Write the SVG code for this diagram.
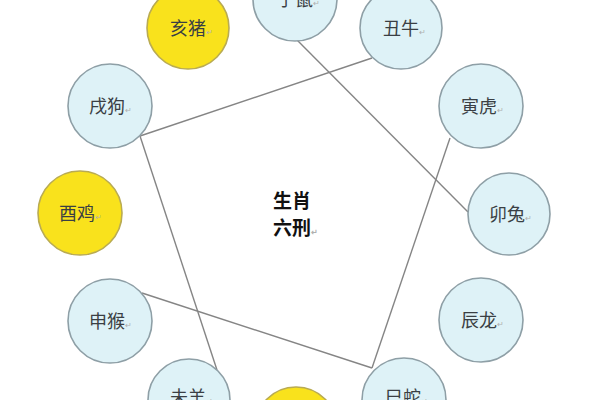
<svg xmlns="http://www.w3.org/2000/svg" width="600" height="400" viewBox="0 0 600 400">
<style>
.b{fill:#def2f7;stroke:#8e9fa6;stroke-width:1.6}
.y{fill:#f9e21c;stroke:#b9ab52;stroke-width:1.6}
.t{font-family:"Noto Sans CJK SC","Noto Sans CJK TC",sans-serif;font-size:18px;fill:#3a3f44}
.m{font-size:8px;fill:#b0b0b0}
.c{font-family:"Noto Sans CJK SC","Noto Sans CJK TC",sans-serif;font-size:19px;font-weight:bold;fill:#111}
.l{stroke:#858585;stroke-width:1.4;fill:none}
</style>
<rect width="600" height="400" fill="#fff"/>
<g id="connectors">
<line class="l" x1="297" y1="40" x2="468" y2="212"/>
<line class="l" x1="372" y1="58" x2="140" y2="136"/>
<line class="l" x1="140" y1="136" x2="217" y2="370"/>
<line class="l" x1="142" y1="293" x2="372" y2="368"/>
<line class="l" x1="450" y1="138" x2="372" y2="368"/>
</g>
<g id="hai"><circle class="y" cx="188" cy="28" r="41"/><text class="t" x="170" y="35">亥猪<tspan class="m">↵</tspan></text></g>
<g id="zi"><circle class="b" cx="295" cy="-1" r="42"/><text class="t" x="277" y="6">子鼠<tspan class="m">↵</tspan></text></g>
<g id="chou"><circle class="b" cx="401" cy="28" r="41"/><text class="t" x="383" y="35">丑牛<tspan class="m">↵</tspan></text></g>
<g id="yin"><circle class="b" cx="481" cy="106" r="42"/><text class="t" x="461" y="113">寅虎<tspan class="m">↵</tspan></text></g>
<g id="mao"><circle class="b" cx="509" cy="214" r="41"/><text class="t" x="489" y="221">卯兔<tspan class="m">↵</tspan></text></g>
<g id="chen"><circle class="b" cx="481" cy="320" r="42"/><text class="t" x="461" y="327">辰龙<tspan class="m">↵</tspan></text></g>
<g id="si"><circle class="b" cx="404" cy="400" r="42"/><text class="t" x="385" y="404">巳蛇<tspan class="m">↵</tspan></text></g>
<g id="wu"><circle class="y" cx="296" cy="428" r="41"/></g>
<g id="wei"><circle class="b" cx="189" cy="400" r="41"/><text class="t" x="170" y="404">未羊<tspan class="m">↵</tspan></text></g>
<g id="shen"><circle class="b" cx="110" cy="321" r="42"/><text class="t" x="89" y="328">申猴<tspan class="m">↵</tspan></text></g>
<g id="you"><circle class="y" cx="80" cy="213" r="42"/><text class="t" x="59" y="220">酉鸡<tspan class="m">↵</tspan></text></g>
<g id="xu"><circle class="b" cx="110" cy="106" r="42"/><text class="t" x="89" y="113">戌狗<tspan class="m">↵</tspan></text></g>
<g id="center"><text class="c" x="273" y="208">生肖</text><text class="c" x="273" y="235">六刑<tspan class="m">↵</tspan></text></g>
</svg>
